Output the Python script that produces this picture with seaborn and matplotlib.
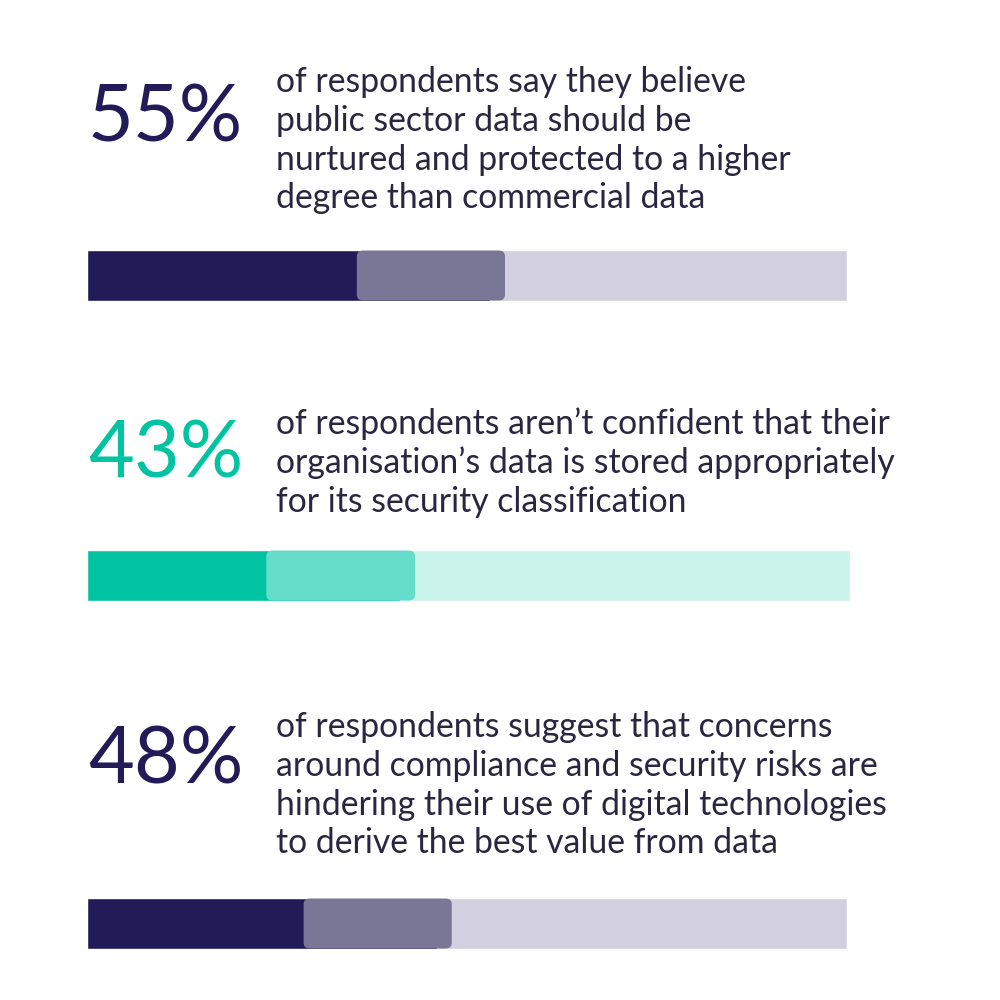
import matplotlib
matplotlib.use("Agg")
import matplotlib.pyplot as plt
from matplotlib.patches import FancyBboxPatch
import seaborn as sns
import pandas as pd

# data
percents = [55, 43, 48]
labels = ["55%", "43%", "48%"]
captions = [
    "of respondents say they believe\npublic sector data should be\nnurtured and protected to a higher\ndegree than commercial data",
    "of respondents aren\u2019t confident that their\norganisation\u2019s data is stored appropriately\nfor its security classification",
    "of respondents suggest that concerns\naround compliance and security risks are\nhindering their use of digital technologies\nto derive the best value from data",
]
dark = ["#221B57", "#00C4A1", "#221B57"]
mid = ["#7A7696", "#66DCCA", "#7A7696"]
track = ["#D2D0DF", "#CAF3EB", "#D2D0DF"]

# layout (pixels on a 1000x1000 canvas)
bar_top = [250, 550, 898]
bar_h = 51
bar_left = 87
bar_w = [760, 763, 760]
num_base = [142, 478, 783]
cap_base = [92, 434, 737]
line_gap = 38.8
hl_width = 19.5   # width of the rounded highlight, in percent units
dark_gap = 2.0    # dark bar stops a little before the value

sns.set_theme(style="white")
plt.rcParams["font.family"] = ["Lato", "DejaVu Sans"]

fig = plt.figure(figsize=(10, 10), dpi=100)
fig.patch.set_facecolor("white")

for i, p in enumerate(percents):
    ax = fig.add_axes([bar_left / 1000, 1 - (bar_top[i] + bar_h) / 1000,
                       bar_w[i] / 1000, bar_h / 1000])
    df = pd.DataFrame({"row": ["a"], "full": [100], "val": [p - dark_gap]})
    sns.barplot(data=df, x="full", y="row", color=track[i], width=1.0,
                saturation=1, ax=ax)
    sns.barplot(data=df, x="val", y="row", color=dark[i], width=1.0,
                saturation=1, ax=ax)
    # rounded highlight ending at the value
    sx = bar_w[i] / 100
    sy = bar_h
    r = 6
    box = FancyBboxPatch((p - hl_width, -0.49), hl_width, 0.98,
                         boxstyle=f"round,pad=0,rounding_size={r / sx}",
                         mutation_aspect=sx / sy,
                         facecolor=mid[i], edgecolor="none", zorder=5)
    ax.add_patch(box)
    ax.set_xlim(0, 100)
    ax.set_ylim(0.5, -0.5)
    ax.axis("off")

    fig.text(88 / 1000, 1 - num_base[i] / 1000, labels[i], fontsize=57,
             color=dark[i], va="baseline", ha="left", fontweight="normal")
    for j, line in enumerate(captions[i].split("\n")):
        fig.text(276 / 1000, 1 - (cap_base[i] + j * line_gap) / 1000, line,
                 fontsize=24.3, color="#2A2640", va="baseline", ha="left")

fig.savefig("out.png", dpi=100, facecolor="white")
